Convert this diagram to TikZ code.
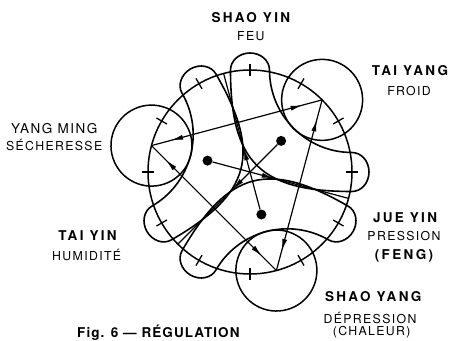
\documentclass[tikz,border=0pt]{standalone}
\usepackage{fontspec}
\setmainfont{TeX Gyre Heros}
\newfontfamily\headfont[LetterSpace=17]{TeX Gyre Heros}
\newfontfamily\subfont[LetterSpace=11]{TeX Gyre Heros}
\newfontfamily\capfont[LetterSpace=8]{TeX Gyre Heros}
\usetikzlibrary{arrows.meta,decorations.markings}

\tikzset{
  ring/.style={line width=1.5pt},
  band/.style={line width=1.6pt, line join=round},
  tick/.style={line width=1.3pt},
  dot/.style={circle, fill, inner sep=0pt, minimum size=10pt},
  link/.style={line width=1.2pt, postaction={decorate}, decoration={markings,
      mark=at position 0.115 with {\arrowreversed{Latex[length=12pt,width=5pt]}},
      mark=at position 0.885 with {\arrow{Latex[length=12pt,width=5pt]}}}},
  ray/.style={line width=1.2pt, postaction={decorate}, decoration={markings,
      mark=at position 0.45 with {\arrow{Latex[length=12pt,width=5pt]}}}},
  head/.style={anchor=base, inner sep=0pt, font=\headfont\bfseries\fontsize{13.5}{16}\selectfont},
  sub/.style={anchor=base, inner sep=0pt, font=\subfont\fontsize{12.3}{14}\selectfont},
}

\begin{document}
\begin{tikzpicture}[x=1pt,y=1pt]
  \useasboundingbox (-250,-168) rectangle (202,172);
  % Main circle and its twelve ticks
  \draw[ring] (0,0) circle[radius=102];
  \foreach \t in {0,30,...,330}
    \draw[tick] (\t:96) -- (\t:108);
  % Bands, yang circles, dots
  \foreach \rot/\nm in {0/ty,120/ym,240/sy} {
    \begin{scope}[rotate=\rot]
      \draw[band] (-19.5,102) .. controls (-19.5,10) and (10,-19.5) .. (102,-19.5)
        arc[start angle=-90,end angle=90,x radius=17,y radius=19.5]
        arc[start angle=270,end angle=180,radius=82.5]
        arc[start angle=0,end angle=180,x radius=19.5,y radius=17] -- cycle;
      \coordinate (\nm) at (45:102);
      \draw[ring] (\nm) circle[radius=40.5];
      \node[dot] (dot\nm) at (45:44) {};
      \coordinate (end\nm) at (225:102);
      \draw[ray] (dot\nm) -- (end\nm);
    \end{scope}
  }
  % Triangle
  \draw[link] (ym) -- (ty);
  \draw[link] (ty) -- (sy);
  \draw[link] (ym) -- (sy);
  % Labels
  \node[head] (shaoyin) at (0.8,149.7) {SHAO YIN};
  \node[sub] (feu) at (0.8,131.3) {FEU};
  \node[head] (taiyang) at (160,96) {TAI YANG};
  \node[sub] (froid) at (159,76.3) {FROID};
  \node[sub, font=\subfont\fontsize{13.5}{16}\selectfont] (yangming) at (-195.8,38) {YANG MING};
  \node[sub] (secheresse) at (-195.8,21.3) {SÉCHERESSE};
  \node[head] (jueyin) at (155,-50.3) {JUE YIN};
  \node[sub] (pression) at (154,-68.7) {PRESSION};
  \node[head] (feng) at (154,-87) {(FENG)};
  \node[head] (taiyin) at (-162.5,-68) {TAI YIN};
  \node[sub] (humidite) at (-163.3,-88.7) {HUMIDITÉ};
  \node[head] (shaoyang) at (123.3,-129.3) {SHAO YANG};
  \node[sub] (depression) at (120,-151.3) {DÉPRESSION};
  \node[sub] (chaleur) at (121.7,-163.7) {(CHALEUR)};
  \node[head, anchor=base west, font=\capfont\bfseries\fontsize{13.5}{16}\selectfont]
    (caption) at (-173,-165) {Fig. 6 — RÉGULATION};
\end{tikzpicture}
\end{document}
